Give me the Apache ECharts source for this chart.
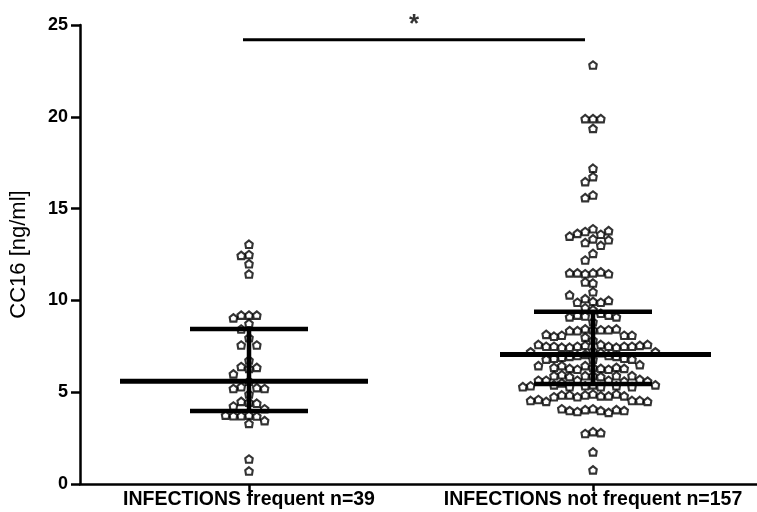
<!DOCTYPE html>
<html>
<head>
<meta charset="utf-8">
<script src="https://cdn.jsdelivr.net/npm/echarts@6/dist/echarts.min.js"></script>
<style>
html,body{margin:0;padding:0;background:#fff;}
#chart{width:757px;height:512px;}
</style>
</head>
<body>
<div id="chart"></div>
<script>
// ---- data ----
const categories = ['INFECTIONS frequent n=39', 'INFECTIONS not frequent n=157'];

const frequentValues = [
  13.06, 12.5, 12.45, 12.0, 11.44, 9.2, 9.2, 9.2, 9.05, 8.75,
  8.44, 7.97, 7.57, 7.57, 6.75, 6.4, 6.35, 6.3, 6.0,
  5.6,
  5.3, 5.25, 5.2, 5.2, 4.9, 4.5, 4.45, 4.4, 4.25, 4.1,
  3.75, 3.72, 3.7, 3.72, 3.75, 3.45, 3.3, 1.36, 0.71
];

const notFrequentValues = [
  22.82, 19.9, 19.9, 19.9, 19.37, 17.2, 16.74, 16.47, 15.74, 15.6,
  13.9, 13.75, 13.6, 13.65, 13.8, 13.35, 13.15, 13.0, 13.3, 13.5,
  12.56, 12.2, 11.5, 11.45, 11.55, 11.5, 11.45, 11.5, 10.95, 11.0,
  10.47, 10.1, 9.95, 9.9, 9.9, 10.0, 10.3, 9.6, 9.5,
  9.3, 9.2, 9.2, 9.15, 9.1, 9.1, 8.84, 8.45, 8.4, 8.4,
  8.35, 8.4, 8.35, 8.45, 8.1, 8.1, 8.05, 8.1, 8.15, 8.0,
  7.84, 7.6, 7.55, 7.5, 7.5, 7.45, 7.45, 7.45, 7.5, 7.5,
  7.5, 7.5, 7.55, 7.6, 7.6, 7.25, 7.2, 7.2, 7.15,
  7.06,
  7.0, 7.0, 6.95, 6.95, 6.9, 6.85, 6.85, 6.8, 6.8, 6.8,
  6.45, 6.35, 6.3, 6.25, 6.25, 6.3, 6.35, 6.45, 6.5, 6.45, 6.3, 6.35,
  5.9, 5.9, 5.85, 5.9, 5.95, 5.9, 5.9, 5.85,
  5.65, 5.65, 5.6, 5.65, 5.7, 5.65, 5.6, 5.5,
  5.4, 5.35, 5.3, 5.3, 5.35, 5.4, 5.3, 5.35, 5.4, 5.3,
  4.9, 4.85, 4.8, 4.75, 4.8, 4.85, 4.9, 4.85, 4.8, 4.75,
  4.55, 4.5, 4.55, 4.6, 4.5, 4.55,
  4.1, 4.05, 4.0, 3.95, 3.9, 4.0, 4.05, 4.1, 4.0,
  2.85, 2.75, 2.8, 1.75, 0.77
];

const medians   = [5.6, 7.06];
const quartile1 = [3.97, 5.45];
const quartile3 = [8.44, 9.38];

const sigLevel = 24.2;
const sigMark = '*';

// ---- layout (pixels) ----
const gridLeft = 80, gridTop = 25, gridBottom = 28, gridRight = 0;
const W = 757 - gridLeft - gridRight;
const H = 512 - gridTop - gridBottom;
const yMax = 25;
const pxPerUnit = H / yMax;
const centers = [169, 513];              // x-axis (pixel units) positions of groups
const medianHalf = [[129, 119], [93, 118]]; // left / right extent of median lines
const quartHalf = 59;
const sigRange = [163, 505];

// beeswarm layout computed from values
function swarm(values, cx) {
  const s = 7.8, d = 7.4;
  const placed = [];
  const out = [];
  values.forEach(v => {
    const py = v * pxPerUnit;
    for (let k = 0; k < 60; k++) {
      const n = Math.ceil(k / 2);
      const off = (k === 0) ? 0 : (k % 2 ? -n * s : n * s);
      let ok = true;
      for (const p of placed) {
        const dx = off - p[0], dy = py - p[1];
        if (dx * dx + dy * dy < d * d) { ok = false; break; }
      }
      if (ok) { placed.push([off, py]); out.push([cx + off, v]); break; }
    }
  });
  return out;
}

const groups = [frequentValues, notFrequentValues];
const symbolPath = 'path://M5,0 L10,4 L9,10 L1,10 L0,4 Z';

const series = [];
groups.forEach((vals, i) => {
  series.push({
    type: 'scatter',
    data: swarm(vals, centers[i]),
    symbol: symbolPath,
    symbolSize: 7.5,
    itemStyle: { color: '#fff', borderColor: '#000', borderWidth: 2.1 },
    z: 2,
    silent: true
  });
  const seg = (pts, w) => ({
    type: 'line', data: pts, symbol: 'none', silent: true, z: 5,
    lineStyle: { color: '#000', width: w, cap: 'butt' }
  });
  series.push(seg([[centers[i] - medianHalf[i][0], medians[i]], [centers[i] + medianHalf[i][1], medians[i]]], 5));
  series.push(seg([[centers[i] - quartHalf, quartile3[i]], [centers[i] + quartHalf, quartile3[i]]], 4.5));
  series.push(seg([[centers[i] - quartHalf, quartile1[i]], [centers[i] + quartHalf, quartile1[i]]], 4.5));
  series.push(seg([[centers[i], quartile1[i]], [centers[i], quartile3[i]]], 4.5));
});

series.push({
  type: 'line', data: [[sigRange[0], sigLevel], [sigRange[1], sigLevel]],
  symbol: 'none', silent: true, lineStyle: { color: '#000', width: 3 }
});
series.push({
  type: 'scatter', data: [[(sigRange[0] + sigRange[1]) / 2, sigLevel]],
  symbolSize: 0, silent: true,
  label: { show: true, position: 'top', distance: 2, formatter: sigMark,
           color: '#000', fontSize: 26, fontWeight: 'bold', fontFamily: 'Liberation Sans' }
});

const chart = echarts.init(document.getElementById('chart'));
chart.setOption({
  backgroundColor: '#fff',
  animation: false,
  grid: { left: gridLeft, right: gridRight, top: gridTop, bottom: gridBottom, containLabel: false },
  xAxis: {
    type: 'value', min: 0, max: W,
    axisLine: { show: true, onZero: false, lineStyle: { color: '#000', width: 2.5 } },
    axisTick: { show: true, customValues: centers, length: 7, lineStyle: { color: '#000', width: 2.5 } },
    axisLabel: {
      show: true, customValues: centers, margin: 6,
      formatter: v => categories[centers.indexOf(v)] || '',
      color: '#000', fontSize: 19.5, fontWeight: 'bold', fontFamily: 'Liberation Sans'
    },
    splitLine: { show: false }
  },
  yAxis: {
    type: 'value', min: 0, max: yMax, interval: 5,
    name: 'CC16 [ng/ml]', nameLocation: 'middle', nameGap: 50, nameRotate: 90,
    nameTextStyle: { color: '#000', fontSize: 22, fontFamily: 'Liberation Sans' },
    axisLine: { show: true, lineStyle: { color: '#000', width: 2.5 } },
    axisTick: { show: true, length: 9, lineStyle: { color: '#000', width: 2.5 } },
    axisLabel: { margin: 12, color: '#000', fontSize: 18, fontWeight: 'bold', fontFamily: 'Liberation Sans' },
    splitLine: { show: false }
  },
  series: series
});
</script>
</body>
</html>
